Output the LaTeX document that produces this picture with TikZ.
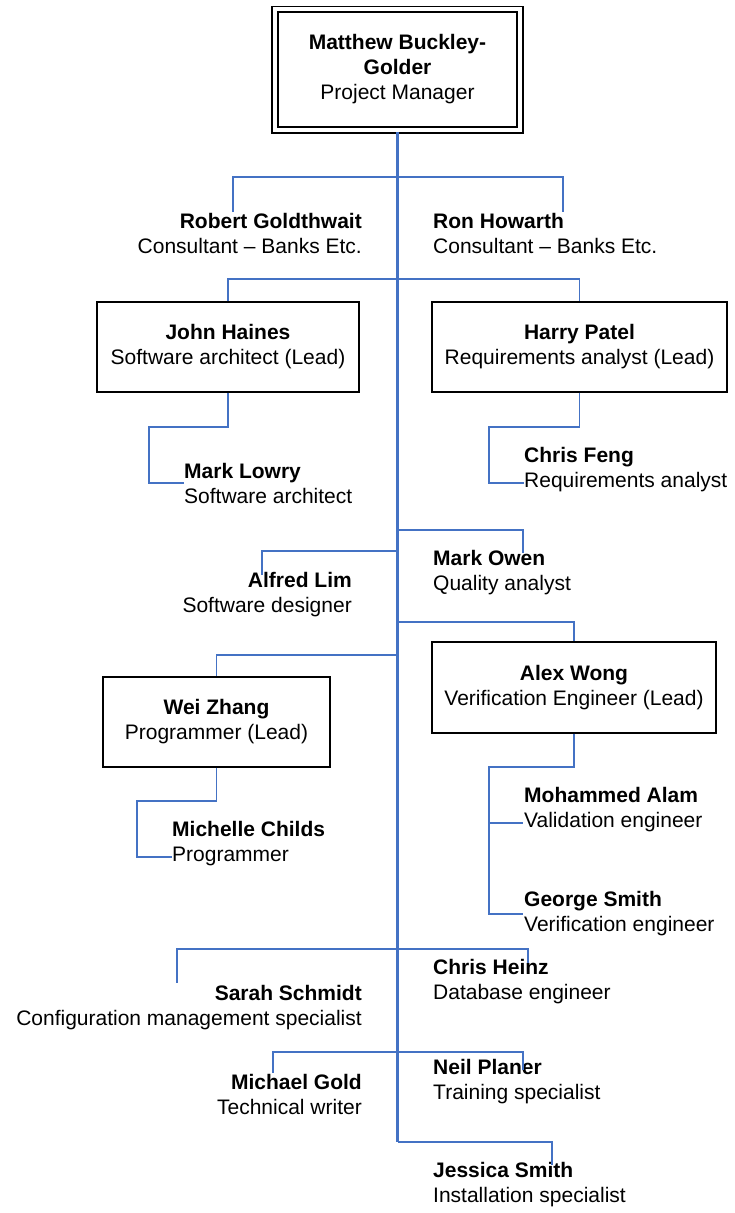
\documentclass[tikz,border=0pt]{standalone}
\usepackage{fontspec}
\setmainfont{Liberation Sans}
\definecolor{lineblue}{RGB}{68,114,196}
\begin{document}
\begin{tikzpicture}[x=1pt,y=-1pt,
  conn/.style={draw=lineblue, line width=1.6pt},
  trunk/.style={draw=lineblue, line width=2.6pt},
  txt/.style={font=\fontsize{21}{25}\selectfont, inner sep=0pt},
  lt/.style={txt, anchor=west, align=left},
  rt/.style={txt, anchor=east, align=right},
  leadbox/.style={txt, draw=black, line width=1.4pt, fill=white, align=center}
]
\useasboundingbox (0,0) rectangle (734,1213);

% top box
\node[leadbox, minimum width=239pt, minimum height=115pt] (pm) at (397.5,69.5)
  {\textbf{Matthew Buckley-}\\\textbf{Golder}\\Project Manager};
\draw[line width=1.6pt] ([xshift=-5.5pt,yshift=5pt]pm.north west) rectangle ([xshift=5.5pt,yshift=-5pt]pm.south east);

% lead boxes
\node[leadbox, minimum width=262pt, minimum height=90pt] (john) at (228,347)
  {\textbf{John Haines}\\Software architect (Lead)};
\node[leadbox, minimum width=295pt, minimum height=90pt] (harry) at (579.5,347)
  {\textbf{Harry Patel}\\Requirements analyst (Lead)};
\node[leadbox, minimum width=227pt, minimum height=90pt] (wei) at (216.5,722)
  {\textbf{Wei Zhang}\\Programmer (Lead)};
\node[leadbox, minimum width=284pt, minimum height=91pt] (alex) at (574,687.5)
  {\textbf{Alex Wong}\\Verification Engineer (Lead)};

% text-only people
\node[rt] (rob) at (362,233) {\textbf{Robert Goldthwait}\\Consultant -- Banks Etc.};
\node[lt] (ron) at (433,233) {\textbf{Ron Howarth}\\Consultant -- Banks Etc.};
\node[lt] (mlowry) at (184,483) {\textbf{Mark Lowry}\\Software architect};
\node[lt] (cfeng) at (524,470) {\textbf{Chris Feng}\\Requirements analyst};
\node[lt] (mowen) at (433,573) {\textbf{Mark Owen}\\Quality analyst};
\node[rt] (alfred) at (352,595) {\textbf{Alfred Lim}\\Software designer};
\node[lt] (michelle) at (172,844) {\textbf{Michelle Childs}\\Programmer};
\node[lt] (mohammed) at (524,810) {\textbf{Mohammed Alam}\\Validation engineer};
\node[lt] (george) at (524,914) {\textbf{George Smith}\\Verification engineer};
\node[rt] (sarah) at (362,1008) {\textbf{Sarah Schmidt}\\Configuration management specialist};
\node[lt] (cheinz) at (433,982) {\textbf{Chris Heinz}\\Database engineer};
\node[rt] (michael) at (362,1094) {\textbf{Michael Gold}\\Technical writer};
\node[lt] (neil) at (433,1082) {\textbf{Neil Planer}\\Training specialist};
\node[lt] (jessica) at (433,1185) {\textbf{Jessica Smith}\\Installation specialist};

% coordinates
\coordinate (trunkTop) at (397.5,132);
\coordinate (trunkEnd) at (397.5,1142);
\coordinate (j1) at (397.5,177);
\coordinate (robT) at (233,212);
\coordinate (ronT) at (563,212);
\coordinate (j2) at (397.5,279);
\coordinate (mlA) at (149,427);
\coordinate (mlE) at (184,483);
\coordinate (cfA) at (489,427);
\coordinate (cfE) at (524,483);
\coordinate (j3) at (397.5,530);
\coordinate (moT) at (523,553);
\coordinate (j4) at (397.5,551);
\coordinate (alT) at (262,575);
\coordinate (j5) at (397.5,622);
\coordinate (j6) at (397.5,655);
\coordinate (mcA) at (137,801);
\coordinate (mcE) at (172,857);
\coordinate (agA) at (489,767);
\coordinate (maJ) at (489,823);
\coordinate (maE) at (523,823);
\coordinate (gsE) at (523,914);
\coordinate (j7) at (397.5,949);
\coordinate (ssT) at (177,983);
\coordinate (chT) at (528,963);
\coordinate (j8) at (397.5,1052);
\coordinate (mgT) at (273,1073);
\coordinate (npT) at (523,1070);
\coordinate (jsT) at (552,1165);

% connectors
\draw[conn] (robT) |- (j1) -| (ronT);
\draw[conn] (john.north) |- (j2) -| (harry.north);
\draw[conn] (john.south) |- (mlA) |- (mlE);
\draw[conn] (harry.south) |- (cfA) |- (cfE);
\draw[conn] (j3) -| (moT);
\draw[conn] (j4) -| (alT);
\draw[conn] (j5) -| (alex.north);
\draw[conn] (j6) -| (wei.north);
\draw[conn] (wei.south) |- (mcA) |- (mcE);
\draw[conn] (alex.south) |- (agA) |- (gsE);
\draw[conn] (maJ) -- (maE);
\draw[conn] (j7) -| (ssT);
\draw[conn] (j7) -| (chT);
\draw[conn] (j8) -| (mgT);
\draw[conn] (j8) -| (npT);
\draw[conn] (trunkEnd) -| (jsT);
\draw[trunk] (trunkTop) -- (trunkEnd);
\end{tikzpicture}
\end{document}
